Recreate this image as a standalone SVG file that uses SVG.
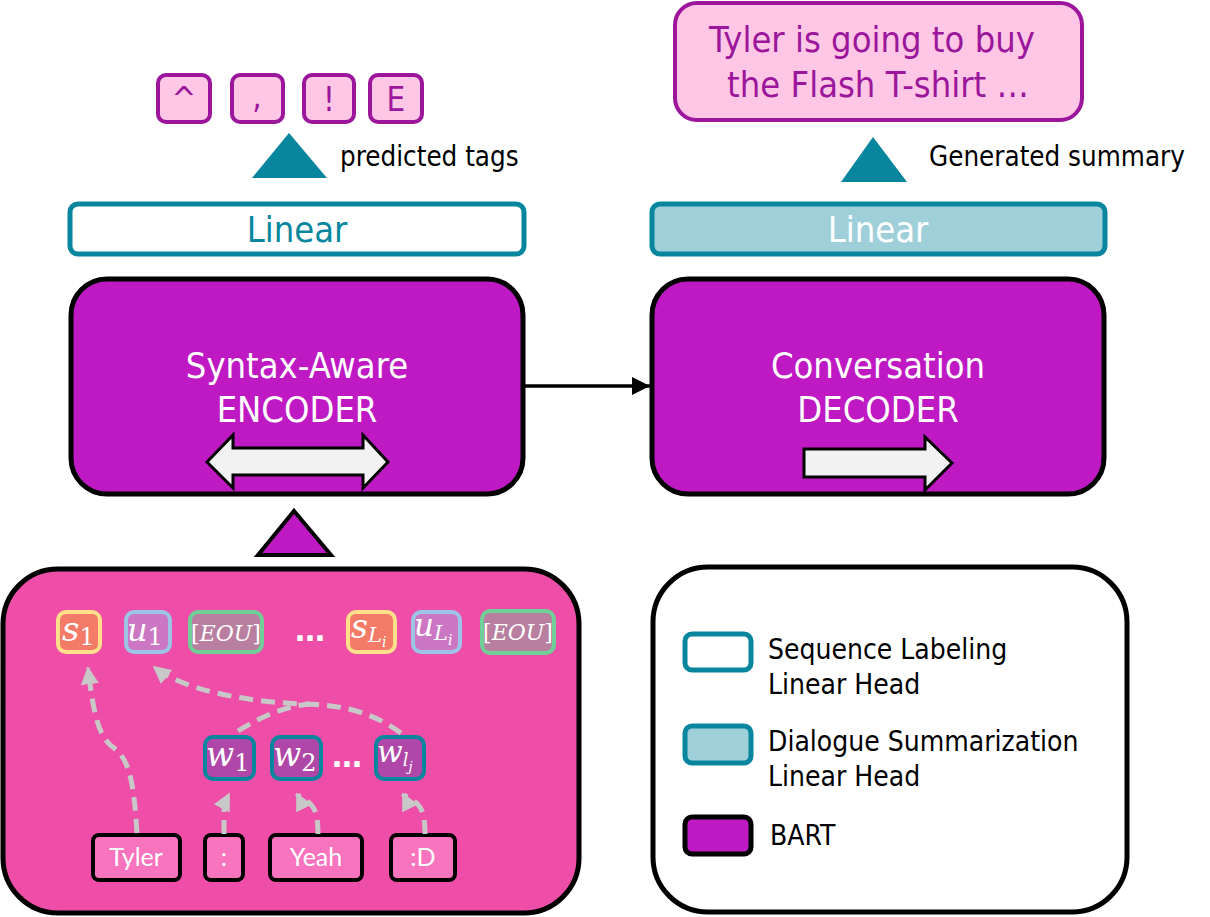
<svg xmlns="http://www.w3.org/2000/svg" width="1210" height="917" viewBox="0 0 1210 917">
<style>
.sans{font-family:"DejaVu Sans Condensed","DejaVu Sans",sans-serif;}
.tag{fill:#FFC7E5;stroke:#9B169B;stroke-width:4;}
.tagt{font-family:"DejaVu Sans Condensed","DejaVu Sans",sans-serif;font-size:33px;fill:#9B169B;text-anchor:middle;}
.lin{stroke:#08869E;stroke-width:5;}
.bart{fill:#BE19C3;stroke:#000;stroke-width:5;}
.wt{font-family:"DejaVu Sans Condensed","DejaVu Sans",sans-serif;font-size:36px;fill:#fff;text-anchor:middle;}
.leg{font-family:"DejaVu Sans Condensed","DejaVu Sans",sans-serif;font-size:28px;fill:#000;}
.math{font-family:"DejaVu Serif","Liberation Serif",serif;fill:#fff;}
.it{font-style:italic;}
.sb{fill:#F47B67;stroke:#FFE08A;stroke-width:4;}
.ub{fill:#CC77C4;stroke:#9DC3E6;stroke-width:4;}
.eb{fill:#B87FA0;stroke:#6FCF97;stroke-width:4;}
.wb{fill:#AE47A8;stroke:#08869E;stroke-width:4;}
.tok{fill:#F874BE;stroke:#000;stroke-width:4;}
.tokt{font-family:Lato,"Liberation Sans",sans-serif;font-size:25px;fill:#fff;text-anchor:middle;}
.dots{font-family:"DejaVu Sans",sans-serif;font-size:30px;font-weight:bold;fill:#fff;text-anchor:middle;}
.dash{fill:none;stroke:#C8C8C8;stroke-width:5;stroke-dasharray:14 8;}
</style>
<defs>
<marker id="ga" viewBox="0 0 10 10" refX="9" refY="5" markerWidth="18" markerHeight="18" markerUnits="userSpaceOnUse" orient="auto">
<path d="M0,0 L10,5 L0,10 z" fill="#C8C8C8"/>
</marker>
<marker id="ba" viewBox="0 0 10 10" refX="10" refY="5" markerWidth="18" markerHeight="18" markerUnits="userSpaceOnUse" orient="auto">
<path d="M0,0 L10,5 L0,10 z" fill="#000"/>
</marker>
</defs>
<rect width="1210" height="917" fill="#fff"/>

<g id="tags">
<rect class="tag" x="158" y="75" width="52" height="47" rx="8"/>
<text class="tagt" x="184" y="111">^</text>
<rect class="tag" x="232" y="75" width="51" height="47" rx="8"/>
<text class="tagt" x="257" y="108">,</text>
<rect class="tag" x="304" y="75" width="50" height="47" rx="8"/>
<text class="tagt" x="329" y="111">!</text>
<rect class="tag" x="370" y="75" width="52" height="47" rx="8"/>
<text class="tagt" x="396" y="111">E</text>
</g>

<g id="predicted-tags">
<polygon points="289,133 327,178 252,178" fill="#08869E"/>
<text class="sans" x="340" y="166" font-size="27.5">predicted tags</text>
</g>

<g id="summary">
<rect x="675" y="3" width="407" height="117" rx="22" fill="#FFC7E5" stroke="#9B169B" stroke-width="4"/>
<text class="sans" x="872" y="52" font-size="36" fill="#9B169B" text-anchor="middle">Tyler is going to buy</text>
<text class="sans" x="878" y="97" font-size="36" fill="#9B169B" text-anchor="middle">the Flash T-shirt …</text>
</g>

<g id="generated-summary">
<polygon points="873,137 907,182 841,182" fill="#08869E"/>
<text class="sans" x="929" y="166" font-size="27.5">Generated summary</text>
</g>

<g id="linear-left">
<rect class="lin" x="70" y="204" width="454" height="50" rx="8" fill="#fff"/>
<text class="sans" x="297" y="242" font-size="36" fill="#08869E" text-anchor="middle">Linear</text>
</g>
<g id="linear-right">
<rect class="lin" x="652" y="204" width="453" height="50" rx="8" fill="#9FCFD9"/>
<text class="sans" x="878" y="242" font-size="36" fill="#fff" text-anchor="middle">Linear</text>
</g>

<g id="encoder">
<rect class="bart" x="71" y="279" width="452" height="215" rx="36"/>
<text class="wt" x="297" y="378">Syntax-Aware</text>
<text class="wt" x="297" y="422">ENCODER</text>
<polygon points="207,462 233,435 233,448 363,448 363,435 388,462 363,488 363,475 233,475 233,488" fill="#F2F2F2" stroke="#000" stroke-width="3"/>
</g>

<g id="decoder">
<rect class="bart" x="652" y="279" width="452" height="215" rx="36"/>
<text class="wt" x="878" y="378">Conversation</text>
<text class="wt" x="878" y="422">DECODER</text>
<polygon points="804,449 925,449 925,437 952,463 925,490 925,477 804,477" fill="#F2F2F2" stroke="#000" stroke-width="3"/>
</g>

<g id="input-arrow">
<polygon points="294,511 331,555 258,555" fill="#BE19C3" stroke="#000" stroke-width="4"/>
</g>

<g id="input-panel">
<rect x="3" y="569" width="576" height="344" rx="55" fill="#EE4DA8" stroke="#000" stroke-width="5"/>
</g>

<g id="s1">
<rect class="sb" x="58" y="612" width="42" height="40" rx="8"/>
<text class="math" x="62" y="641" font-size="34"><tspan class="it">s</tspan><tspan font-size="24" dy="4">1</tspan></text>
</g>
<g id="u1">
<rect class="ub" x="126" y="612" width="44" height="40" rx="8"/>
<text class="math" x="127" y="641" font-size="32"><tspan class="it">u</tspan><tspan font-size="24" dy="4">1</tspan></text>
</g>
<g id="eou1">
<rect class="eb" x="190" y="612" width="72" height="40" rx="8"/>
<text class="math" x="226" y="641" font-size="22" text-anchor="middle">[<tspan class="it">EOU</tspan>]</text>
</g>
<g id="dots1">
<text class="dots" x="310" y="641">…</text>
</g>
<g id="sLi">
<rect class="sb" x="348" y="612" width="47" height="40" rx="8"/>
<text class="math" x="351" y="638" font-size="33"><tspan class="it">s</tspan><tspan font-size="21" class="it" dy="4">L</tspan><tspan font-size="14" class="it" dy="5">i</tspan></text>
</g>
<g id="uLi">
<rect class="ub" x="413" y="612" width="47" height="40" rx="8"/>
<text class="math" x="414" y="636" font-size="31"><tspan class="it">u</tspan><tspan font-size="21" class="it" dy="4">L</tspan><tspan font-size="14" class="it" dy="5">i</tspan></text>
</g>
<g id="eou2">
<rect class="eb" x="482" y="611" width="72" height="42" rx="8"/>
<text class="math" x="518" y="640" font-size="22" text-anchor="middle">[<tspan class="it">EOU</tspan>]</text>
</g>

<g id="w1">
<rect class="wb" x="205" y="737" width="49" height="42" rx="8"/>
<text class="math" x="206" y="766" font-size="33"><tspan class="it">w</tspan><tspan font-size="24" dy="5">1</tspan></text>
</g>
<g id="w2">
<rect class="wb" x="272" y="737" width="49" height="42" rx="8"/>
<text class="math" x="273" y="766" font-size="33"><tspan class="it">w</tspan><tspan font-size="24" dy="5">2</tspan></text>
</g>
<g id="dots2">
<text class="dots" x="347" y="767">…</text>
</g>
<g id="wlj">
<rect class="wb" x="376" y="737" width="48" height="42" rx="8"/>
<text class="math" x="377" y="762" font-size="30"><tspan class="it">w</tspan><tspan font-size="18" class="it" dy="4">l</tspan><tspan font-size="13" class="it" dy="5">j</tspan></text>
</g>

<g id="tok-tyler">
<rect class="tok" x="93" y="835" width="87" height="45" rx="6"/>
<text class="tokt" x="136" y="866">Tyler</text>
</g>
<g id="tok-colon">
<rect class="tok" x="205" y="835" width="38" height="45" rx="6"/>
<text class="tokt" x="224" y="866">:</text>
</g>
<g id="tok-yeah">
<rect class="tok" x="270" y="835" width="92" height="45" rx="6"/>
<text class="tokt" x="316" y="866">Yeah</text>
</g>
<g id="tok-d">
<rect class="tok" x="391" y="835" width="64" height="45" rx="6"/>
<text class="tokt" x="423" y="866">:D</text>
</g>

<g id="legend">
<rect x="653" y="567" width="474" height="345" rx="55" fill="#fff" stroke="#000" stroke-width="5"/>
<rect class="lin" x="685" y="634" width="66" height="36" rx="7" fill="#fff"/>
<text class="leg" x="768" y="659">Sequence Labeling</text>
<text class="leg" x="768" y="694">Linear Head</text>
<rect class="lin" x="685" y="726" width="66" height="37" rx="7" fill="#9FCFD9"/>
<text class="leg" x="768" y="751">Dialogue Summarization</text>
<text class="leg" x="768" y="786">Linear Head</text>
<rect class="bart" x="685" y="817" width="66" height="37" rx="7"/>
<text class="leg" x="770" y="845">BART</text>
</g>

<g id="connectors">
<line x1="524" y1="386" x2="650" y2="386" stroke="#000" stroke-width="3.5" marker-end="url(#ba)"/>
<path class="dash" d="M137,833 C134,785 130,760 114,748 C100,738 94,720 88,668" marker-end="url(#ga)"/>
<path class="dash" d="M401,733 C372,712 342,705 306,704 C240,702 180,688 154,667" marker-end="url(#ga)"/>
<path class="dash" d="M238,731 C262,716 286,706 310,704"/>
<path class="dash" d="M224,834 L224,810 C224,800 228,796 229,794" marker-end="url(#ga)"/>
<path class="dash" d="M318,834 C318,812 314,806 306,800 C300,796 298,796 297,794" marker-end="url(#ga)"/>
<path class="dash" d="M425,834 C425,812 421,806 413,800 C407,796 404,796 403,794" marker-end="url(#ga)"/>
</g>
</svg>
